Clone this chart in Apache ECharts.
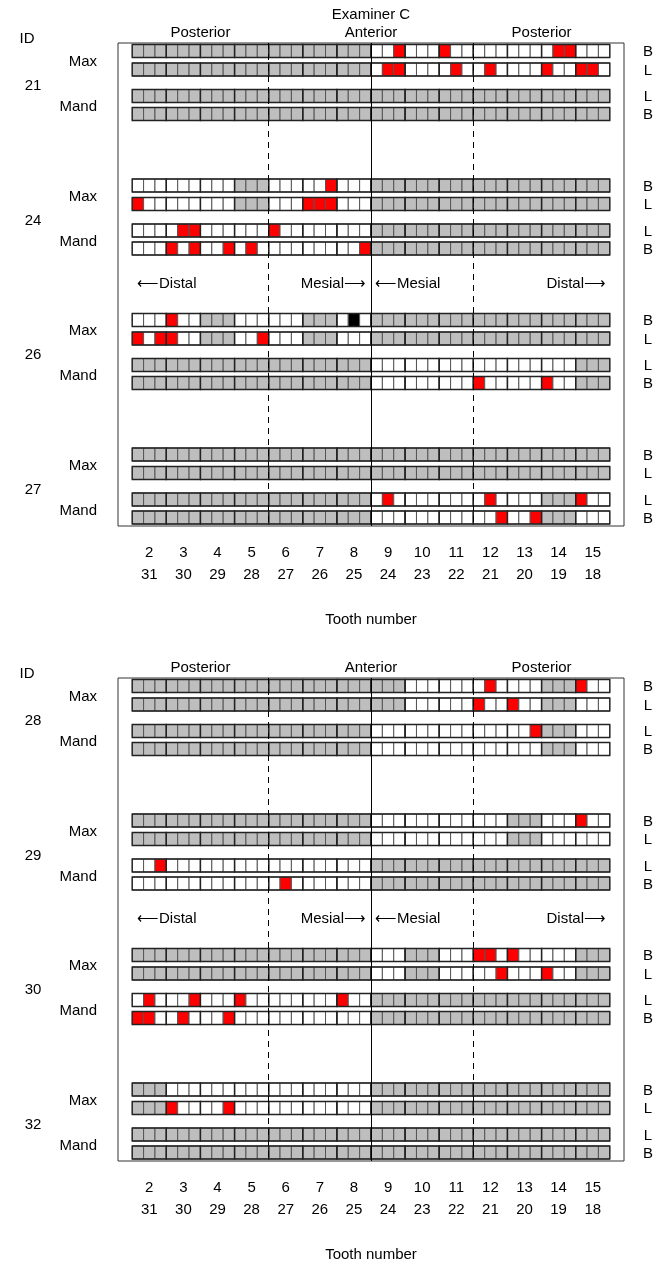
<!DOCTYPE html>
<html>
<head>
<meta charset="utf-8">
<script src="https://cdn.jsdelivr.net/npm/echarts@6/dist/echarts.min.js"></script>
<style>
  html, body { margin: 0; padding: 0; background: #fff; }
  #main { width: 657px; height: 1267px; }
</style>
</head>
<body>
<div id="main"></div>
<script>
// tooth numbers (upper / lower)
const upperTeeth = ['2','3','4','5','6','7','8','9','10','11','12','13','14','15'];
const lowerTeeth = ['31','30','29','28','27','26','25','24','23','22','21','20','19','18'];
const rowSides = ['B', 'L', 'L', 'B'];
const jaws = ['Max', 'Mand'];
const regions = ['Posterior', 'Anterior', 'Posterior'];
const topIds = ['21', '24', '26', '27'];
const bottomIds = ['28', '29', '30', '32'];

// site codes, 3 per tooth: g = gray, w = white, r = red, k = black
const G = 'ggg ggg ggg ggg ggg ggg ggg ggg ggg ggg ggg ggg ggg ggg';
const p21 = [
  'ggg ggg ggg ggg ggg ggg ggg wwr www rww www www wrr www',
  'ggg ggg ggg ggg ggg ggg ggg wrr www wrw wrw www rww rrw',
  G,
  G
];
const p24 = [
  'www www www ggg www wwr www ggg ggg ggg ggg ggg ggg ggg',
  'rww www www ggg www rrr www ggg ggg ggg ggg ggg ggg ggg',
  'www wrr www www rww www www ggg ggg ggg ggg ggg ggg ggg',
  'www rwr wwr wrw www www wwr ggg ggg ggg ggg ggg ggg ggg'
];
const p26 = [
  'www rww ggg www www ggg wkw ggg ggg ggg ggg ggg ggg ggg',
  'rwr rww ggg wwr www ggg www ggg ggg ggg ggg ggg ggg ggg',
  'ggg ggg ggg ggg ggg ggg ggg www www www www www www ggg',
  'ggg ggg ggg ggg ggg ggg ggg www www www rww www rww ggg'
];
const p27 = [
  G,
  G,
  'ggg ggg ggg ggg ggg ggg ggg wrw www www wrw www ggg rww',
  'ggg ggg ggg ggg ggg ggg ggg www www www wwr wwr ggg www'
];
const p28 = [
  'ggg ggg ggg ggg ggg ggg ggg ggg www www wrw www ggg rww',
  'ggg ggg ggg ggg ggg ggg ggg ggg www www rww rww ggg www',
  'ggg ggg ggg ggg ggg ggg ggg www www www www wwr ggg www',
  'ggg ggg ggg ggg ggg ggg ggg www www www www www ggg www'
];
const p29 = [
  'ggg ggg ggg ggg ggg ggg ggg www www www www ggg www rww',
  'ggg ggg ggg ggg ggg ggg ggg www www www www ggg www www',
  'wwr www www www www www www ggg ggg ggg ggg ggg ggg ggg',
  'www www www www wrw www www ggg ggg ggg ggg ggg ggg ggg'
];
const p30 = [
  'ggg ggg ggg ggg ggg ggg ggg www ggg www rrw rww www ggg',
  'ggg ggg ggg ggg ggg ggg ggg www ggg www wwr www rww ggg',
  'wrw wwr www rww www www rww ggg ggg ggg ggg ggg ggg ggg',
  'rrw wrw wwr www www www www ggg ggg ggg ggg ggg ggg ggg'
];
const p32 = [
  'ggg www www www www www www ggg ggg ggg ggg ggg ggg ggg',
  'ggg rww wwr www www www www ggg ggg ggg ggg ggg ggg ggg',
  G,
  G
];

const panels = [
  { ids: topIds, patients: [p21, p24, p26, p27] },
  { ids: bottomIds, patients: [p28, p29, p30, p32] }
];

// layout
const FONT = '15px "Liberation Sans", Arial, sans-serif';
const BOX_LEFT = 118, BOX_W = 506, BOX_H = 483;
const PANEL_TOP = [43, 678];
const X_MIN = -1.25, X_MAX = 43.25;
const FIRST_ROW = 8, PATIENT_STEP = 134.5;
const ROW_OFF = [0, 18.5, 45, 63];
const CELL_H = 13;
const CODE_INDEX = { g: 0, w: 1, r: 2, k: 3 };
const CELL_COLORS = ['#BEBEBE', '#FFFFFF', '#FF0000', '#000000'];

const unit = BOX_W / (X_MAX - X_MIN);
const colX = c => BOX_LEFT + (c - X_MIN) * unit;

function rowY(p, r) {
  return FIRST_ROW + p * PATIENT_STEP + ROW_OFF[r];
}

function renderCell(params, api) {
  const pt = api.coord([api.value(0), api.value(1)]);
  const s = api.size([1, CELL_H]);
  return {
    type: 'rect',
    shape: { x: pt[0], y: pt[1] - s[1] / 2, width: s[0], height: s[1] },
    style: { fill: CELL_COLORS[api.value(2)], stroke: '#555', lineWidth: 1 }
  };
}

function renderTooth(params, api) {
  const pt = api.coord([api.value(0), api.value(1)]);
  const s = api.size([3, CELL_H]);
  return {
    type: 'rect',
    shape: { x: pt[0], y: pt[1] - s[1] / 2, width: s[0], height: s[1] },
    style: { fill: 'none', stroke: '#222', lineWidth: 1.3 }
  };
}

const grids = [], xAxes = [], yAxes = [], series = [], texts = [];

function label(text, x, y, align) {
  texts.push({
    type: 'text', x: x, y: y, silent: true,
    style: {
      text: text, font: FONT, fill: '#000',
      textAlign: align || 'center', align: align || 'center',
      textVerticalAlign: 'middle', verticalAlign: 'middle'
    }
  });
}

const toothCenters = upperTeeth.map((t, i) => i * 3 + 1.5);

panels.forEach((panel, k) => {
  const top = PANEL_TOP[k];
  grids.push({
    left: BOX_LEFT, top: top, width: BOX_W, height: BOX_H,
    show: true, borderColor: '#333', borderWidth: 1,
    backgroundColor: 'transparent', outerBoundsMode: 'none'
  });
  xAxes.push({
    gridIndex: k, type: 'value', min: X_MIN, max: X_MAX,
    axisLine: { show: false }, axisTick: { show: false }, splitLine: { show: false },
    axisLabel: {
      customValues: toothCenters,
      formatter: (v) => {
        const i = Math.round((v - 1.5) / 3);
        return upperTeeth[i] + '\n' + lowerTeeth[i];
      },
      fontSize: 15, lineHeight: 22, margin: 16, color: '#000',
      fontFamily: '"Liberation Sans", Arial, sans-serif'
    }
  });
  yAxes.push({
    gridIndex: k, type: 'value', min: 0, max: BOX_H, inverse: true, show: false
  });

  const cells = [], teeth = [];
  panel.patients.forEach((rows, p) => {
    rows.forEach((str, r) => {
      const y = rowY(p, r);
      str.split(' ').forEach((tooth, t) => {
        teeth.push([t * 3, y]);
        tooth.split('').forEach((ch, j) => {
          cells.push([t * 3 + j, y, CODE_INDEX[ch]]);
        });
      });
    });
  });

  series.push({
    type: 'custom', xAxisIndex: k, yAxisIndex: k, z: 2,
    renderItem: renderCell, data: cells, silent: true, animation: false
  });
  series.push({
    type: 'custom', xAxisIndex: k, yAxisIndex: k, z: 3,
    renderItem: renderTooth, data: teeth, silent: true, animation: false,
    markLine: {
      silent: true, symbol: 'none', animation: false,
      label: { show: false },
      lineStyle: { color: '#000', width: 1 },
      data: [
        { xAxis: 12, lineStyle: { type: [6, 5], color: '#000', width: 1 } },
        { xAxis: 21, lineStyle: { type: 'solid', color: '#000', width: 1 } },
        { xAxis: 30, lineStyle: { type: [6, 5], color: '#000', width: 1 } }
      ]
    }
  });

  // header text
  label(regions[0], colX(6), top - 10);
  label(regions[1], colX(21), top - 10);
  label(regions[2], colX(36), top - 10);
  label('ID', 27, top - 4);

  panel.ids.forEach((id, p) => {
    const base = top + rowY(p, 0);
    label(id, 33, base + 35);
    label(jaws[0], 97, base + 11, 'right');
    label(jaws[1], 97, base + 56, 'right');
    rowSides.forEach((s, r) => label(s, 648, top + rowY(p, r) + 1));
  });

  const dy = top + 241;
  label('\u27F5Distal', 137, dy, 'left');
  label('Mesial\u27F6', 366, dy, 'right');
  label('\u27F5Mesial', 375, dy, 'left');
  label('Distal\u27F6', 606, dy, 'right');

  label('Tooth number', colX(21), top + BOX_H + 94);
});

label('Examiner C', colX(21), 15);

const chart = echarts.init(document.getElementById('main'), null, { renderer: 'canvas' });
chart.setOption({
  animation: false,
  backgroundColor: '#fff',
  grid: grids,
  xAxis: xAxes,
  yAxis: yAxes,
  series: series,
  graphic: { elements: texts }
});
</script>
</body>
</html>
